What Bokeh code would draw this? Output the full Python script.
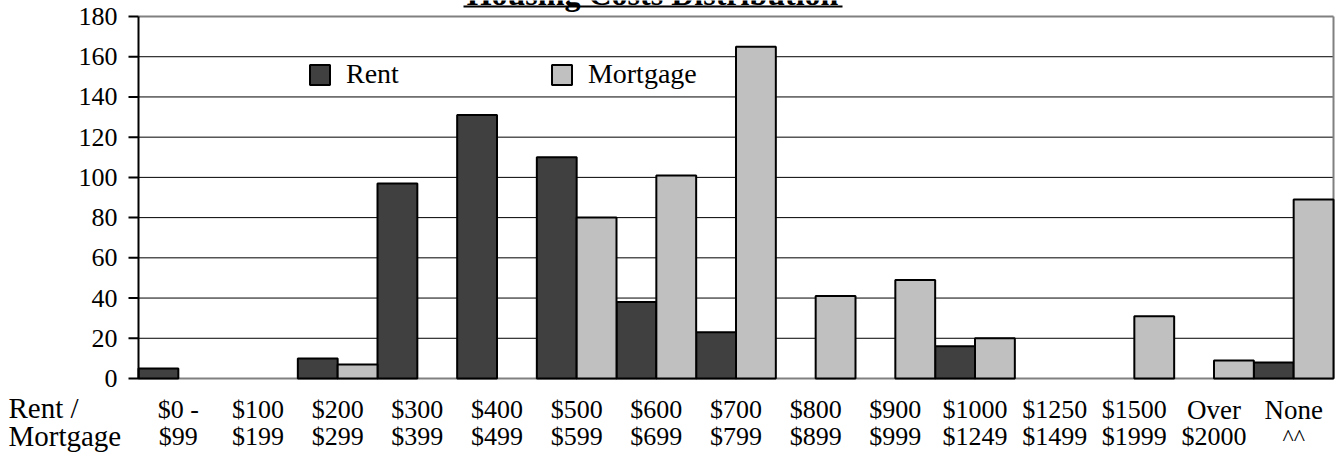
from bokeh.plotting import figure
from bokeh.models import Range1d, Legend, LegendItem, ColumnDataSource
from bokeh.core.properties import value, field
from bokeh.embed import file_html
from bokeh.resources import INLINE

# ---- data ----
cat_line1 = ["$0 -", "$100", "$200", "$300", "$400", "$500", "$600", "$700",
             "$800", "$900", "$1000", "$1250", "$1500", "Over", "None"]
cat_line2 = ["$99", "$199", "$299", "$399", "$499", "$599", "$699", "$799",
             "$899", "$999", "$1249", "$1499", "$1999", "$2000", "^^"]
rent = [5, 0, 10, 97, 131, 110, 38, 23, 0, 0, 16, 0, 0, 0, 8]
mortgage = [0, 0, 7, 0, 0, 80, 101, 165, 41, 49, 20, 0, 31, 9, 89]
y_ticks = [0, 20, 40, 60, 80, 100, 120, 140, 160, 180]
title_text = "Housing Costs Distribution"
row_header = ["Rent /", "Mortgage"]

FONT = "Liberation Serif"
n = len(cat_line1)

# ---- geometry (pixels) ----
W, H = 1341, 453
LEFT_PX, FRAME_W = 138, 1195          # plot area
TOP_PX, BASE_PX = 16, 378
ux = FRAME_W / n                      # px per category
uy = (BASE_PX - TOP_PX) / 180.0       # px per unit


def px_x(px):
    return (px - LEFT_PX) / ux


def px_y(px):
    return (BASE_PX - px) / uy


p = figure(width=W, height=H, output_backend="svg", toolbar_location=None,
           x_range=Range1d(px_x(0), px_x(W)), y_range=Range1d(px_y(H), px_y(0)),
           min_border_left=0, min_border_right=0, min_border_top=0,
           min_border_bottom=0)
p.background_fill_color = "white"
p.border_fill_color = "white"
p.outline_line_color = None
p.xaxis.visible = False
p.yaxis.visible = False
p.xgrid.visible = False
p.ygrid.visible = False

# grid lines and plot-area border, limited to the plot area
inner = y_ticks[1:-1]
p.segment(x0=[0] * len(inner), x1=[n] * len(inner), y0=inner, y1=inner,
          line_color="black", line_width=1, level="underlay")
edge_y = [y_ticks[0], y_ticks[-1]]
p.segment(x0=[0, 0], x1=[n, n], y0=edge_y, y1=edge_y,
          line_color="#808080", line_width=2, level="underlay")
p.segment(x0=[n], x1=[n], y0=[y_ticks[0]], y1=[y_ticks[-1]],
          line_color="#808080", line_width=2, level="underlay")

# bars (zero values are not drawn)
rx = [i + 0.25 for i in range(n) if rent[i] > 0]
rt = [rent[i] for i in range(n) if rent[i] > 0]
mx = [i + 0.75 for i in range(n) if mortgage[i] > 0]
mt = [mortgage[i] for i in range(n) if mortgage[i] > 0]
r1 = p.vbar(x=rx, top=rt, bottom=0, width=0.5, fill_color="#404040",
            line_color="black", line_width=2)
r2 = p.vbar(x=mx, top=mt, bottom=0, width=0.5, fill_color="#c0c0c0",
            line_color="black", line_width=2)

# value axis at the left edge of the plot area
tick_len = 10 / ux
p.segment(x0=[0], y0=[y_ticks[0]], x1=[0], y1=[y_ticks[-1]],
          line_color="black", line_width=2)
p.segment(x0=[-tick_len] * len(y_ticks), y0=y_ticks, x1=[0] * len(y_ticks),
          y1=y_ticks, line_color="black", line_width=2)
p.text(x=[-(21 / ux)] * len(y_ticks), y=y_ticks, text=[str(v) for v in y_ticks],
       text_align="right", text_baseline="middle", text_font=value(FONT),
       text_font_size=value("26px"), text_color="black")


# category labels (two lines), "middle" anchor = baseline - 0.3375 em
def mid_for_baseline(base_px, size):
    return px_y(base_px - 0.3375 * size)


fs1 = ["26px" if s.startswith("$") else "27px" for s in cat_line1]
fs2 = ["26px" if s.startswith("$") else "24px" for s in cat_line2]
lab = ColumnDataSource(dict(
    x=[i + 0.5 for i in range(n)],
    t1=cat_line1, t2=cat_line2,
    y1=[mid_for_baseline(418, 26)] * n,
    y2=[mid_for_baseline(445, 26)] * n,
    fs1=fs1, fs2=fs2))
p.text(x="x", y="y1", text="t1", source=lab, text_align="center",
       text_baseline="middle", text_font=value(FONT), text_font_size=field("fs1"),
       text_color="black")
p.text(x="x", y="y2", text="t2", source=lab, text_align="center",
       text_baseline="middle", text_font=value(FONT), text_font_size=field("fs2"),
       text_color="black")

# row header
p.text(x=[px_x(8), px_x(8)],
       y=[mid_for_baseline(417.7, 29), mid_for_baseline(445, 29)],
       text=row_header, text_align="left", text_baseline="middle",
       text_font=value(FONT), text_font_size=value("29px"), text_color="black")

# title (cut at the top of the picture, underlined)
p.text(x=[px_x(652)], y=[mid_for_baseline(4, 32)], text=[title_text],
       text_align="center", text_baseline="middle", text_font=value(FONT),
       text_font_size=value("32px"), text_font_style="bold", text_color="black")
p.segment(x0=[px_x(463)], x1=[px_x(842)], y0=[px_y(6)], y1=[px_y(6)],
          line_color="black", line_width=2)

# legend
legend = Legend(items=[LegendItem(label="Rent", renderers=[r1]),
                       LegendItem(label="Mortgage", renderers=[r2])],
                orientation="horizontal", location=(307, H - 90),
                border_line_color=None, background_fill_alpha=0,
                spacing=150, padding=0, margin=0, glyph_width=25, glyph_height=25,
                label_height=25, label_standoff=14,
                label_text_font=FONT, label_text_font_size="28px",
                label_text_color="black")
p.add_layout(legend)

open("out.html", "w").write(file_html(p, INLINE))
